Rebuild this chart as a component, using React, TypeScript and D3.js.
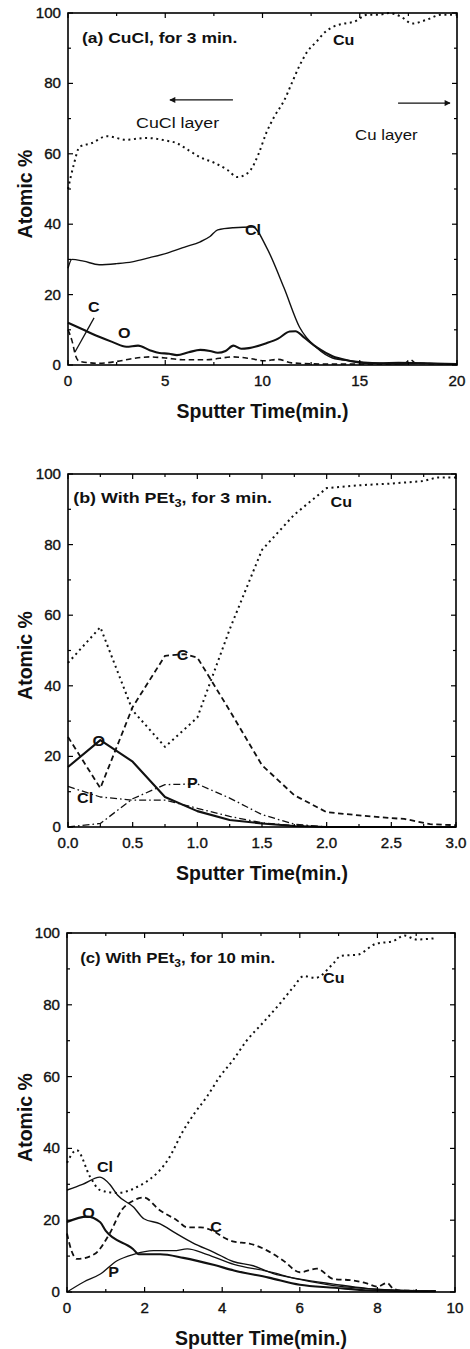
import React from "react";
import * as d3 from "d3";

type Pt = [number, number];

// (a) CuCl, for 3 min.
const aCu: Pt[] = [[0, 50], [0.3, 57], [0.6, 62], [1.2, 63], [2, 65], [3, 64], [4, 64.5], [5, 63.8], [5.6, 63], [6.2, 61], [6.8, 59], [7.5, 57.5], [8.2, 55.4], [8.7, 53.4], [9.1, 54], [9.4, 55.5], [9.8, 60], [10.2, 66], [10.6, 70.5], [11.1, 75], [11.5, 80], [11.9, 85], [12.3, 89], [12.8, 92], [13.2, 94.5], [13.6, 96], [14.2, 97], [14.7, 97.5], [15.4, 99.5], [16, 99.5], [16.5, 100], [17.1, 99], [17.7, 97], [18.4, 98], [19.2, 99.5], [20, 99.5]];
const aCl: Pt[] = [[0, 27.5], [0.2, 30], [0.8, 29.5], [1.6, 28.5], [2.5, 28.8], [3.3, 29.3], [4.2, 30.5], [5.1, 31.8], [6, 33.5], [6.8, 35], [7.3, 36.5], [7.7, 38.4], [8.5, 39], [9.5, 39.2], [10.2, 33.5], [11.1, 22], [11.9, 10.8], [12.8, 4.8], [13.6, 2], [14.5, 1.2], [15.2, 0.8], [16, 0.6], [17, 0.7], [18, 0.6], [19, 0.4], [20, 0.4]];
const aO: Pt[] = [[0, 12], [0.8, 10], [1.6, 8], [2.3, 6.5], [3, 5.2], [3.6, 5.5], [4.2, 4.2], [4.7, 3.4], [5.2, 3.2], [5.6, 2.8], [6.2, 3.6], [6.8, 4.3], [7.3, 4], [7.7, 3.5], [8.1, 4], [8.5, 5.5], [8.9, 4.6], [9.3, 4.8], [10.2, 6.2], [10.8, 7.5], [11.4, 9.5], [11.7, 9.6], [12.1, 8], [12.8, 5], [13.6, 2.5], [14.4, 1.3], [15.4, 0.5], [17, 0.4], [18, 0.5], [20, 0.3]];
const aC: Pt[] = [[0, 10], [0.2, 7], [0.4, 2.5], [0.6, 1], [1.6, 0.5], [2.5, 1], [3.3, 1.8], [4.2, 2.3], [5, 2], [5.9, 1.5], [7.1, 1.5], [8.5, 2.3], [9.4, 1.8], [10.1, 1.2], [10.8, 1.6], [11.5, 0.6], [13, 0.3], [16, 0.3], [17.3, 0.5], [17.6, 1.5], [17.9, 0.5], [20, 0.3]];

// (b) With PEt3, for 3 min.
const bCu: Pt[] = [[0, 46.5], [0.25, 56.6], [0.5, 33], [0.75, 22.7], [1, 31], [1.25, 56], [1.5, 78.5], [1.75, 88.5], [2, 96], [2.25, 96.8], [2.5, 97.3], [2.75, 98], [2.85, 99], [3, 99]];
const bC: Pt[] = [[0, 25.5], [0.25, 11], [0.5, 34], [0.75, 48.5], [0.9, 49], [1, 48], [1.25, 33], [1.5, 17.5], [1.75, 9], [2, 4.2], [2.25, 3.3], [2.5, 2.5], [2.6, 2.3], [2.8, 0.8], [3, 0.5]];
const bO: Pt[] = [[0, 17], [0.25, 24.6], [0.5, 18.5], [0.75, 8.5], [1, 4.5], [1.25, 2], [1.5, 1], [1.75, 0.3], [2, 0], [3, 0]];
const bCl: Pt[] = [[0, 11.5], [0.25, 8.5], [0.5, 7.6], [0.75, 7.6], [1, 5.3], [1.25, 3], [1.5, 1.2], [1.75, 0.4], [2, 0], [3, 0]];
const bP: Pt[] = [[0, 0], [0.25, 1], [0.5, 8], [0.75, 12], [1, 12.2], [1.25, 8.2], [1.5, 3.5], [1.75, 0.8], [2, 0], [3, 0]];

// (c) With PEt3, for 10 min.
const cCu: Pt[] = [[0, 36], [0.25, 39.5], [0.6, 32], [0.85, 28.4], [1.3, 27.6], [1.9, 29.8], [2.15, 31.5], [2.6, 36.8], [3, 45], [3.3, 50], [3.6, 54.3], [3.94, 60], [4.28, 64.6], [4.63, 70], [5.05, 75], [5.5, 80.5], [5.84, 85], [6.1, 88], [6.4, 87.5], [6.87, 91.6], [7.05, 93.6], [7.5, 94], [7.96, 97], [8.4, 97.7], [8.7, 99.3], [9, 98.2], [9.45, 98.5]];
const cCl: Pt[] = [[0, 28.4], [0.4, 30], [0.85, 32], [1.1, 30], [1.3, 27], [1.72, 23.6], [1.98, 20.4], [2.4, 19], [2.8, 16.4], [3.24, 13.7], [3.8, 11], [4.28, 8.5], [4.8, 7.3], [5.3, 5.2], [6, 3.6], [6.87, 2.2], [7.7, 1], [8.6, 0.5], [9.5, 0.2]];
const cO: Pt[] = [[0, 19.5], [0.52, 21], [0.85, 19.5], [1, 17], [1.7, 12], [1.85, 10.5], [2.4, 10.5], [3, 9.5], [3.8, 7.5], [4.3, 6], [5.2, 4], [6, 2], [6.9, 1.2], [7.7, 0.5], [9.5, 0.2]];
const cP: Pt[] = [[0, 0], [0.43, 2.8], [0.86, 5], [1.29, 8.7], [1.72, 10.5], [2.23, 11.5], [2.75, 11.5], [3.1, 12], [3.6, 10.5], [4.3, 7.7], [5.15, 5.8], [6, 3.5], [6.87, 1.8], [7.7, 1], [8.6, 0.4], [9.5, 0.3]];
const cC: Pt[] = [[0, 16.3], [0.1, 12], [0.26, 9.2], [0.7, 10.5], [1.1, 16.3], [1.4, 22.7], [1.72, 25.5], [1.98, 26.3], [2.4, 22.7], [2.83, 20], [3.1, 18], [3.44, 18], [3.8, 16.8], [4.04, 15.2], [4.3, 14], [4.7, 13.5], [5.15, 11.6], [5.57, 8.8], [6, 5.5], [6.44, 6.5], [6.87, 3.6], [7.3, 3.3], [7.7, 2.5], [8, 1.5], [8.25, 2.5], [8.4, 1], [8.6, 0.4], [9.5, 0.3]];

const yTicks = [0, 20, 40, 60, 80, 100];
const aXTicks = [0, 5, 10, 15, 20];
const bXTicks = [0, 0.5, 1, 1.5, 2, 2.5, 3];
const cXTicks = [0, 2, 4, 6, 8, 10];

const FONT = "'Liberation Sans', Arial, Helvetica, sans-serif";
const DOT = "2 3.6";
const DASH = "5.5 3.5";
const DASHDOT = "7 3 1.6 3";

interface Series { pts: Pt[]; width: number; dash?: string; }
interface Part { t: string; sub?: boolean; }
interface Label { parts: Part[]; x: number; y: number; bold?: boolean; sx?: number; }
interface Arrow { x1: number; x2: number; y: number; }
interface Box { left: number; top: number; right: number; bottom: number; }

const lbl = (t: string, x: number, y: number, bold = true, sx = 1.15): Label => ({ parts: [{ t }], x, y, bold, sx });

function Panel({ box, xMax, xTicks, xMinorStep, fmt, series, labels, curve, arrows = [], leader }: {
  box: Box; xMax: number; xTicks: number[]; xMinorStep: number; fmt: (v: number) => string;
  series: Series[]; labels: Label[]; curve: d3.CurveFactory; arrows?: Arrow[]; leader?: [Pt, Pt];
}) {
  const x = d3.scaleLinear().domain([0, xMax]).range([box.left, box.right]);
  const y = d3.scaleLinear().domain([0, 100]).range([box.bottom, box.top]);
  const line = d3.line<Pt>().x(d => x(d[0])).y(d => y(d[1])).curve(curve);
  const xMinor = d3.range(0, xMax + 1e-9, xMinorStep);
  const yMinor = d3.range(0, 100.001, 10);
  const midY = (box.top + box.bottom) / 2;
  const midX = (box.left + box.right) / 2;

  return (
    <g fontFamily={FONT}>
      {series.map((s, i) => (
        <path key={i} d={line(s.pts) ?? ""} fill="none" stroke="#111" strokeWidth={s.width}
          strokeDasharray={s.dash} strokeLinejoin="round" />
      ))}
      <rect x={box.left} y={box.top} width={box.right - box.left} height={box.bottom - box.top}
        fill="none" stroke="#000" strokeWidth={1.6} />
      {xMinor.map((v, i) => {
        const major = xTicks.some(t => Math.abs(t - v) < 1e-9);
        const len = major ? 5 : 3;
        return (
          <g key={`xt${i}`} stroke="#000" strokeWidth={1.2}>
            <line x1={x(v)} x2={x(v)} y1={box.bottom} y2={box.bottom - len} />
            <line x1={x(v)} x2={x(v)} y1={box.top} y2={box.top + len} />
          </g>
        );
      })}
      {yMinor.map((v, i) => {
        const len = v % 20 === 0 ? 5 : 3;
        return (
          <g key={`yt${i}`} stroke="#000" strokeWidth={1.2}>
            <line x1={box.left} x2={box.left + len} y1={y(v)} y2={y(v)} />
            <line x1={box.right} x2={box.right - len} y1={y(v)} y2={y(v)} />
          </g>
        );
      })}
      {yTicks.map(v => (
        <text key={`yl${v}`} transform={`translate(${box.left - 7},${y(v) + 5}) scale(1.08,1)`}
          textAnchor="end" fontSize={14} fill="#111" stroke="#111" strokeWidth={0.35}>{v}</text>
      ))}
      {xTicks.map(v => (
        <text key={`xl${v}`} transform={`translate(${x(v)},${box.bottom + 21}) scale(1.08,1)`}
          textAnchor="middle" fontSize={14} fill="#111" stroke="#111" strokeWidth={0.35}>{fmt(v)}</text>
      ))}
      <text x={midX} y={box.bottom + 53} textAnchor="middle" fontSize={19.5} fontWeight="bold" fill="#111">
        Sputter Time(min.)
      </text>
      <text transform={`translate(32,${midY + 5}) rotate(-90)`} textAnchor="middle" fontSize={19.5}
        fontWeight="bold" fill="#111">Atomic %</text>
      {labels.map((l, i) => (
        <text key={`lb${i}`} transform={`translate(${x(l.x)},${y(l.y)}) scale(${l.sx ?? 1.15},1)`}
          fontSize={14} fontWeight={l.bold ? "bold" : "normal"} fill="#111">
          {l.parts.map((p, j) => (
            <tspan key={j} fontSize={p.sub ? 10 : 14} dy={p.sub ? 4 : (j > 0 && l.parts[j - 1].sub ? -4 : 0)}>{p.t}</tspan>
          ))}
        </text>
      ))}
      {arrows.map((a, i) => (
        <line key={`ar${i}`} x1={x(a.x1)} x2={x(a.x2)} y1={y(a.y)} y2={y(a.y)} stroke="#111"
          strokeWidth={1.3} markerEnd="url(#arrowhead)" />
      ))}
      {leader && (
        <line x1={x(leader[0][0])} y1={y(leader[0][1])} x2={x(leader[1][0])} y2={y(leader[1][1])}
          stroke="#111" strokeWidth={1.3} />
      )}
    </g>
  );
}

export default function App() {
  const width = 470;
  const height = 1349;

  return (
    <svg width={width} height={height} style={{ position: "absolute", left: 0, top: 0, background: "#fff" }}>
      <defs>
        <marker id="arrowhead" viewBox="0 0 10 10" refX={9} refY={5} markerWidth={7} markerHeight={6}
          markerUnits="userSpaceOnUse" orient="auto">
          <path d="M0,0 L10,5 L0,10 z" fill="#111" />
        </marker>
      </defs>
      <rect width={width} height={height} fill="#fff" />
      <Panel
        box={{ left: 68, top: 13, right: 457, bottom: 365 }}
        xMax={20} xTicks={aXTicks} xMinorStep={2.5} fmt={v => `${v}`}
        curve={d3.curveMonotoneX}
        series={[
          { pts: aCu, width: 2, dash: DOT },
          { pts: aCl, width: 1.4 },
          { pts: aO, width: 2.1 },
          { pts: aC, width: 1.6, dash: DASH },
        ]}
        labels={[
          { parts: [{ t: "(a) CuCl, for 3 min." }], x: 0.72, y: 91.5, bold: true, sx: 1.25 },
          lbl("Cu", 13.62, 90.9),
          { parts: [{ t: "CuCl layer" }], x: 3.5, y: 67.3, bold: false, sx: 1.27 },
          { parts: [{ t: "Cu layer" }], x: 14.76, y: 63.9, bold: false, sx: 1.2 },
          lbl("Cl", 9.1, 36.9),
          lbl("C", 1.03, 15.1),
          lbl("O", 2.57, 7.7),
        ]}
        arrows={[{ x1: 8.48, x2: 5.24, y: 75.3 }, { x1: 16.97, x2: 19.64, y: 74.4 }]}
        leader={[[1.34, 13.4], [0.36, 3.7]]}
      />
      <Panel
        box={{ left: 68, top: 474, right: 456, bottom: 827 }}
        xMax={3} xTicks={bXTicks} xMinorStep={0.25} fmt={d3.format(".1f")}
        curve={d3.curveLinear}
        series={[
          { pts: bCu, width: 2, dash: DOT },
          { pts: bC, width: 1.8, dash: DASH },
          { pts: bO, width: 2.1 },
          { pts: bCl, width: 1.3, dash: DASHDOT },
          { pts: bP, width: 1.3, dash: DASHDOT },
        ]}
        labels={[
          { parts: [{ t: "(b) With PEt" }, { t: "3", sub: true }, { t: ", for 3 min." }], x: 0.04, y: 91.8, bold: true, sx: 1.28 },
          lbl("Cu", 2.03, 90.6),
          lbl("C", 0.84, 47.3),
          lbl("O", 0.19, 22.9),
          lbl("P", 0.92, 11.0),
          lbl("Cl", 0.07, 6.8),
        ]}
      />
      <Panel
        box={{ left: 67, top: 933, right: 455, bottom: 1292 }}
        xMax={10} xTicks={cXTicks} xMinorStep={1} fmt={v => `${v}`}
        curve={d3.curveMonotoneX}
        series={[
          { pts: cCu, width: 2, dash: DOT },
          { pts: cCl, width: 1.4 },
          { pts: cO, width: 2.1 },
          { pts: cP, width: 1.3 },
          { pts: cC, width: 1.8, dash: DASH },
        ]}
        labels={[
          { parts: [{ t: "(c) With PEt" }, { t: "3", sub: true }, { t: ", for 10 min." }], x: 0.34, y: 91.6, bold: true, sx: 1.2 },
          lbl("Cu", 6.6, 86.1),
          lbl("Cl", 0.77, 33.4),
          lbl("O", 0.39, 20.6),
          lbl("C", 3.69, 16.7),
          lbl("P", 1.06, 4.2),
        ]}
      />
    </svg>
  );
}
